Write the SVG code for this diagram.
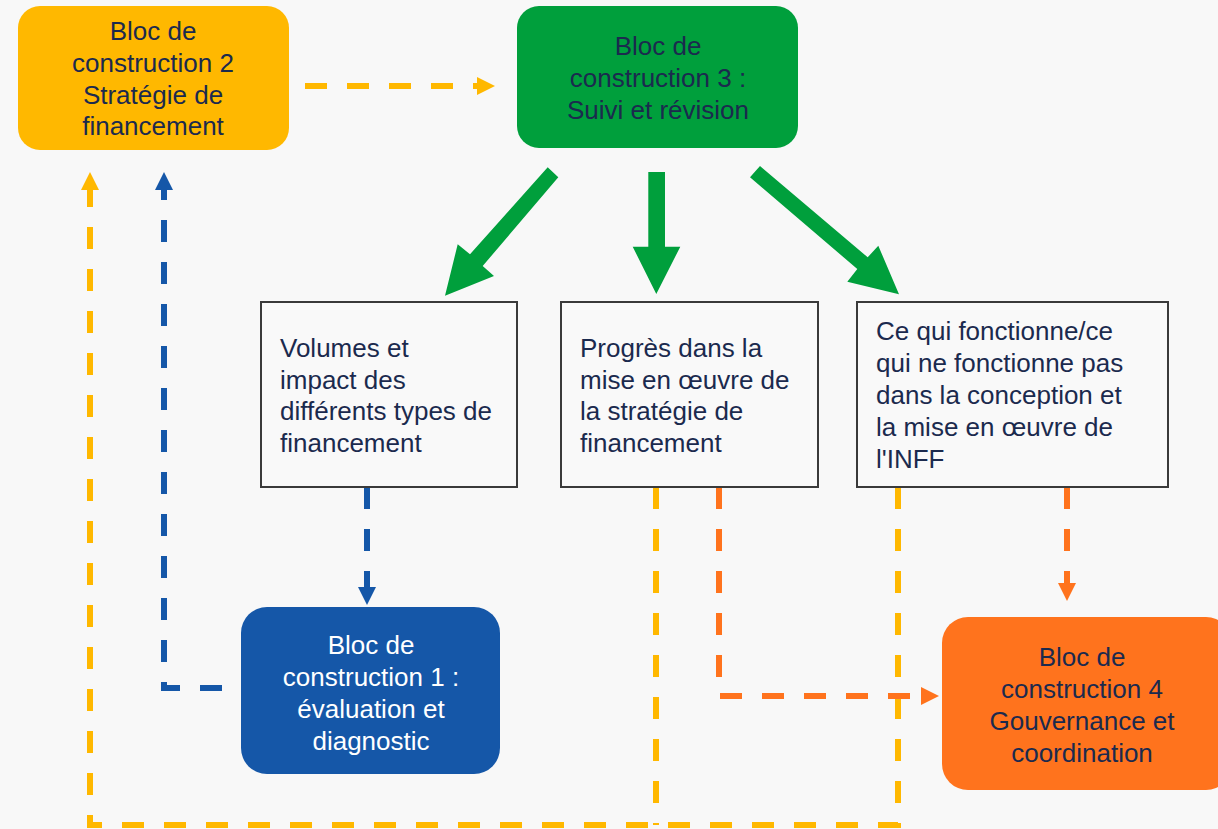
<svg xmlns="http://www.w3.org/2000/svg" width="1218" height="829" viewBox="0 0 1218 829">
<style>
text{font-family:"Liberation Sans",Arial,sans-serif;font-size:26px;fill:#1b2a4e}
.c{text-anchor:middle}
.w{fill:#ffffff}
.box{fill:#f9f9f9;stroke:#3a3a3a;stroke-width:2}
.dash{fill:none;stroke-width:6;stroke-dasharray:22 20}
.y{stroke:#ffb800}
.b{stroke:#1557a8}
.o{stroke:#ff731d}
.g{fill:#009f3c}
</style>
<defs>
<marker id="ay" markerUnits="userSpaceOnUse" markerWidth="18" markerHeight="18" refX="0" refY="9" orient="auto"><path d="M0,0 L18,9 L0,18 z" fill="#ffb800"/></marker>
<marker id="ab" markerUnits="userSpaceOnUse" markerWidth="18" markerHeight="18" refX="0" refY="9" orient="auto"><path d="M0,0 L18,9 L0,18 z" fill="#1557a8"/></marker>
<marker id="ao" markerUnits="userSpaceOnUse" markerWidth="18" markerHeight="18" refX="0" refY="9" orient="auto"><path d="M0,0 L18,9 L0,18 z" fill="#ff731d"/></marker>
</defs>
<rect x="0" y="0" width="1218" height="829" fill="#f8f8f8"/>

<g id="connectors">
<path class="dash y" d="M305,86 H477" marker-end="url(#ay)"/>
<path class="dash y" d="M898,487 V825 H90 V190" marker-end="url(#ay)"/>
<path class="dash y" d="M656,487 V825"/>
<path class="dash b" d="M222,688 H164 V190" marker-end="url(#ab)"/>
<path class="dash b" d="M367,487 V587" marker-end="url(#ab)"/>
<path class="dash o" d="M719,487 V696 H921" marker-end="url(#ao)"/>
<path class="dash o" d="M1067,487 V583" marker-end="url(#ao)"/>
<polygon class="g" points="547.7,167.3 558.3,177.3 482.7,266 494,276 445,295.7 457.7,244.3 470,254.3"/>
<polygon class="g" points="648.3,172 665,172 665,246.7 680.3,246.7 656.3,294 632.7,246.7 648.3,246.7"/>
<polygon class="g" points="760,166 750,177.3 857.3,269 847.3,281.7 899,294.3 878.3,245.7 867.7,257.3"/>
</g>

<g id="bloc2">
<rect x="18" y="6" width="271" height="144" rx="22" fill="#ffb800"/>
<text class="c" x="153" y="40">Bloc de</text>
<text class="c" x="153" y="72">construction 2</text>
<text class="c" x="153" y="104">Stratégie de</text>
<text class="c" x="153" y="135">financement</text>
</g>

<g id="bloc3">
<rect x="517" y="6" width="281" height="142" rx="22" fill="#009f3c"/>
<text class="c" x="658" y="55">Bloc de</text>
<text class="c" x="658" y="87">construction 3 :</text>
<text class="c" x="658" y="119">Suivi et révision</text>
</g>

<g id="volumes">
<rect class="box" x="261" y="302" width="256" height="185"/>
<text x="280" y="357">Volumes et</text>
<text x="280" y="389">impact des</text>
<text x="280" y="420">différents types de</text>
<text x="280" y="452">financement</text>
</g>

<g id="progres">
<rect class="box" x="561" y="302" width="257" height="185"/>
<text x="580" y="357">Progrès dans la</text>
<text x="580" y="389">mise en œuvre de</text>
<text x="580" y="420">la stratégie de</text>
<text x="580" y="452">financement</text>
</g>

<g id="fonctionne">
<rect class="box" x="857" y="302" width="311" height="185"/>
<text x="876" y="340">Ce qui fonctionne/ce</text>
<text x="876" y="372">qui ne fonctionne pas</text>
<text x="876" y="404">dans la conception et</text>
<text x="876" y="436">la mise en œuvre de</text>
<text x="876" y="468">l'INFF</text>
</g>

<g id="bloc1">
<rect x="241" y="607" width="259" height="167" rx="26" fill="#1557a8"/>
<text class="c w" x="371" y="654">Bloc de</text>
<text class="c w" x="371" y="686">construction 1 :</text>
<text class="c w" x="371" y="718">évaluation et</text>
<text class="c w" x="371" y="750">diagnostic</text>
</g>

<g id="bloc4">
<rect x="942" y="617" width="290" height="173" rx="26" fill="#ff731d"/>
<text class="c" x="1082" y="666">Bloc de</text>
<text class="c" x="1082" y="698">construction 4</text>
<text class="c" x="1082" y="730">Gouvernance et</text>
<text class="c" x="1082" y="762">coordination</text>
</g>
</svg>
